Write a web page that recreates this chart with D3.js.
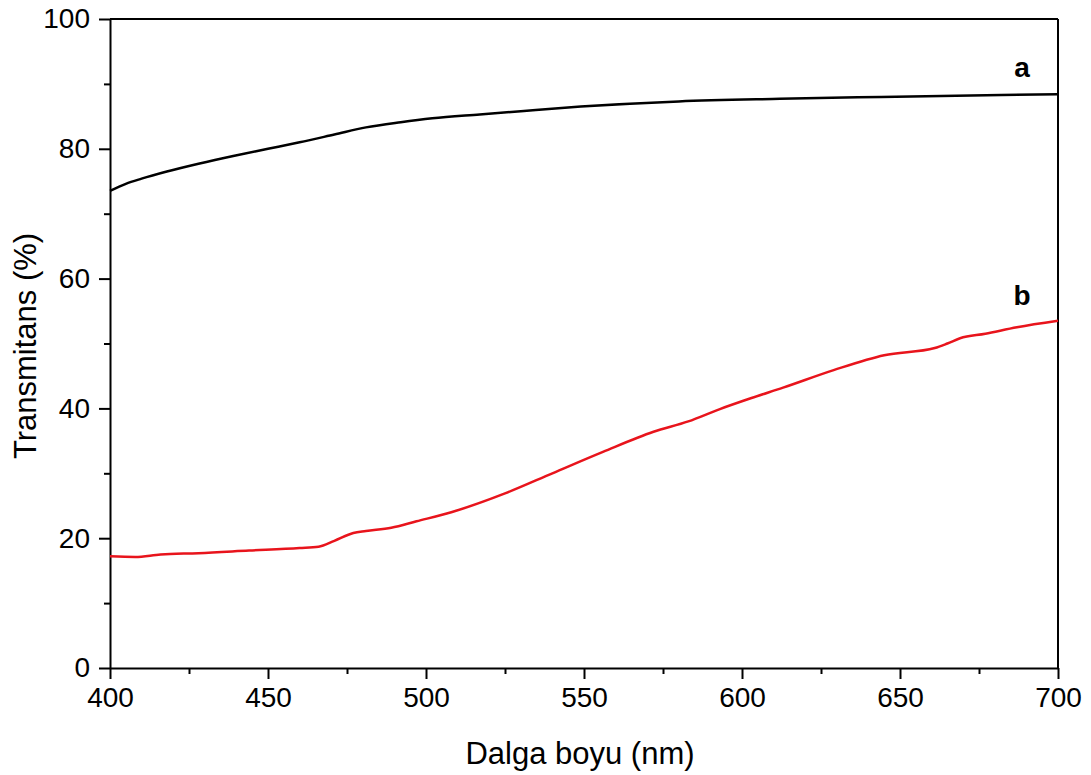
<!DOCTYPE html>
<html>
<head>
<meta charset="utf-8">
<script src="https://cdn.jsdelivr.net/npm/d3@7"></script>
<style>
  html, body { margin: 0; padding: 0; background: #fff; }
  svg { display: block; font-family: "Liberation Sans", Arial, sans-serif; }
</style>
</head>
<body>
<svg id="chart" width="1091" height="775"></svg>
<script>
const waveA = [400, 405, 410, 418, 428, 439, 450, 460, 471, 481, 492, 502, 517, 530, 549, 580, 612, 644, 682, 700];
const transA = [73.5, 74.6, 75.4, 76.5, 77.7, 78.9, 80.0, 81.0, 82.2, 83.3, 84.1, 84.7, 85.3, 85.8, 86.5, 87.3, 87.7, 88.0, 88.3, 88.4];

const waveB = [400, 408, 416, 428, 444, 460, 466, 471, 477, 481, 489, 497, 508, 525, 540, 556, 572, 583, 593, 603, 613, 629, 645, 661, 665, 669, 677, 687, 700];
const transB = [17.2, 17.1, 17.5, 17.7, 18.1, 18.5, 18.7, 19.6, 20.8, 21.1, 21.6, 22.6, 24.0, 26.9, 30.0, 33.3, 36.4, 38.0, 39.9, 41.6, 43.2, 45.9, 48.2, 49.3, 50.0, 50.8, 51.5, 52.5, 53.5];

const xTicks = [400, 450, 500, 550, 600, 650, 700];
const xMinor = [425, 475, 525, 575, 625, 675];
const yTicks = [0, 20, 40, 60, 80, 100];
const yMinor = [10, 30, 50, 70, 90];

const seriesLabels = ["a", "b"];
const xTitle = "Dalga boyu (nm)";
const yTitle = "Transmitans (%)";

const svg = d3.select("#chart");
const L = 110, R = 1058, T = 19, B = 668;

const x = d3.scaleLinear().domain([400, 700]).range([L, R]);
const y = d3.scaleLinear().domain([0, 100]).range([B, T]);

// frame top/right
svg.append("line").attr("x1", L).attr("x2", R).attr("y1", T).attr("y2", T)
  .attr("stroke", "#000").attr("stroke-width", 2);
svg.append("line").attr("x1", R).attr("x2", R).attr("y1", T).attr("y2", B)
  .attr("stroke", "#000").attr("stroke-width", 2);

// minor ticks
svg.append("g").attr("transform", `translate(0,${B})`)
  .call(d3.axisBottom(x).tickValues(xMinor).tickSize(6).tickFormat(""))
  .call(g => g.select(".domain").remove())
  .call(g => g.selectAll("line").attr("stroke", "#000").attr("stroke-width", 2));
svg.append("g").attr("transform", `translate(${L},0)`)
  .call(d3.axisLeft(y).tickValues(yMinor).tickSize(6).tickFormat(""))
  .call(g => g.select(".domain").remove())
  .call(g => g.selectAll("line").attr("stroke", "#000").attr("stroke-width", 2));

// major axes
const xAxis = svg.append("g").attr("transform", `translate(0,${B})`)
  .call(d3.axisBottom(x).tickValues(xTicks).tickSize(11).tickSizeOuter(0).tickPadding(8).tickFormat(d3.format("d")));
const yAxis = svg.append("g").attr("transform", `translate(${L},0)`)
  .call(d3.axisLeft(y).tickValues(yTicks).tickSize(11).tickSizeOuter(0).tickPadding(9).tickFormat(d3.format("d")));

[xAxis, yAxis].forEach(a => {
  a.select(".domain").attr("stroke", "#000").attr("stroke-width", 2);
  a.selectAll(".tick line").attr("stroke", "#000").attr("stroke-width", 2);
  a.selectAll(".tick text").attr("fill", "#000")
    .style("font-size", "28px").style("font-family", "'Liberation Sans', Arial, sans-serif");
});

// curves
const line = d3.line().x(d => x(d[0])).y(d => y(d[1])).curve(d3.curveMonotoneX);
svg.append("path").datum(waveA.map((w, i) => [w, transA[i]]))
  .attr("d", line).attr("fill", "none").attr("stroke", "#000").attr("stroke-width", 2.5);
svg.append("path").datum(waveB.map((w, i) => [w, transB[i]]))
  .attr("d", line).attr("fill", "none").attr("stroke", "#e8141c").attr("stroke-width", 2.5);

// series labels
svg.append("text").attr("x", 1022).attr("y", 77).attr("text-anchor", "middle")
  .style("font-size", "28px").style("font-weight", "bold").text(seriesLabels[0]);
svg.append("text").attr("x", 1022).attr("y", 305).attr("text-anchor", "middle")
  .style("font-size", "28px").style("font-weight", "bold").text(seriesLabels[1]);

// titles
svg.append("text").attr("x", 580).attr("y", 764).attr("text-anchor", "middle")
  .style("font-size", "31px").text(xTitle);
svg.append("text").attr("transform", `translate(36,346) rotate(-90)`)
  .attr("text-anchor", "middle").style("font-size", "31px").text(yTitle);
</script>
</body>
</html>
